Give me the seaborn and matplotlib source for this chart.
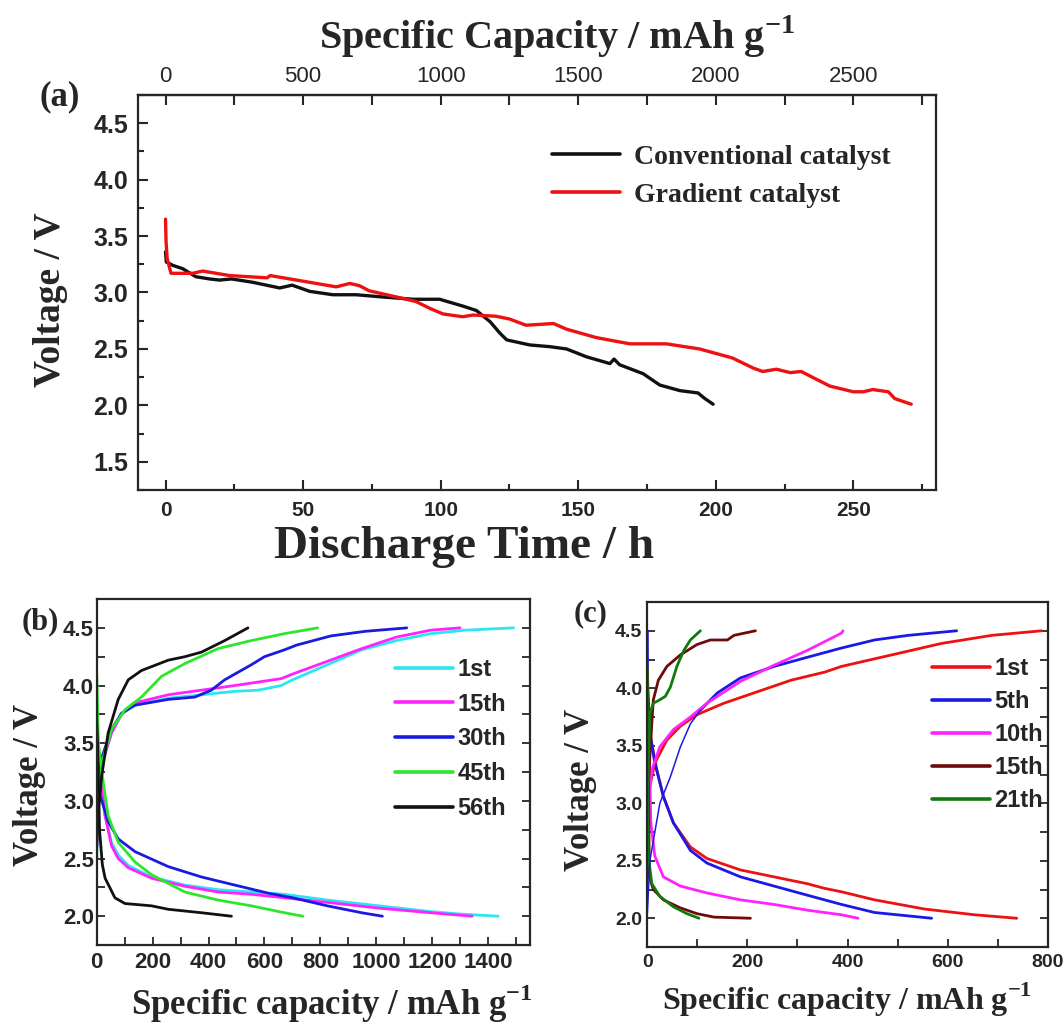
import numpy as np
import pandas as pd
import matplotlib
matplotlib.use("Agg")
import matplotlib.pyplot as plt
from matplotlib.ticker import MultipleLocator
import seaborn as sns

# ---- panel (a): discharge curves, time (h) vs voltage (V) ----
time_conv = [0, 0.3, 2.7, 6.3, 11, 16, 19.6, 24, 31.8, 41.5, 46, 52.4, 60.8, 69.3,
             79, 90, 99.6, 108, 113, 118, 121.5, 124, 132.4, 139.6, 145.7, 153,
             161.5, 163, 165, 173.6, 179.6, 187, 193.5, 196, 199]
volt_conv = [3.36, 3.27, 3.24, 3.21, 3.14, 3.12, 3.11, 3.12, 3.09, 3.04, 3.065, 3.01,
             2.98, 2.98, 2.96, 2.94, 2.94, 2.88, 2.84, 2.74, 2.64, 2.58, 2.535, 2.52,
             2.50, 2.43, 2.37, 2.41, 2.36, 2.28, 2.18, 2.13, 2.11, 2.06, 2.01]

time_grad = [0, 0.2, 0.6, 2, 9.9, 13.5, 23.3, 37, 38, 50, 62, 67, 70.5, 74, 84, 91,
             96, 100.8, 108, 111.7, 120, 125, 131, 141, 145.7, 156.6, 168.7, 182,
             194, 206, 213.6, 217, 222, 227, 231, 236.6, 241.5, 250, 253.6, 257,
             262.7, 265, 271]
volt_grad = [3.65, 3.45, 3.30, 3.17, 3.17, 3.19, 3.15, 3.13, 3.15, 3.10, 3.05, 3.08,
             3.06, 3.015, 2.96, 2.92, 2.86, 2.81, 2.785, 2.80, 2.79, 2.765, 2.71,
             2.725, 2.675, 2.60, 2.545, 2.545, 2.50, 2.42, 2.33, 2.30, 2.32, 2.29,
             2.30, 2.23, 2.17, 2.12, 2.12, 2.14, 2.12, 2.06, 2.01]

catalysts = ["Conventional catalyst", "Gradient catalyst"]
colors_a = ["#111111", "#ee1111"]

# ---- panel (b): charge / discharge profiles, capacity (mAh/g) vs voltage ----
cycles_b = ["1st", "15th", "30th", "45th", "56th"]
colors_b = ["#2ae6f0", "#ff22ff", "#1a1ae0", "#2ee62e", "#111111"]

charge_b = {
    "1st": ([0, 5, 20, 53, 89, 137, 256, 375, 494, 578, 660, 701, 825, 948, 1072, 1195, 1318, 1491],
            [2.5, 2.95, 3.33, 3.59, 3.76, 3.83, 3.89, 3.92, 3.95, 3.96, 4.0, 4.05, 4.18, 4.31, 4.39, 4.45, 4.48, 4.5]),
    "15th": ([0, 5, 20, 53, 89, 137, 256, 375, 494, 660, 701, 825, 948, 1072, 1195, 1300],
             [2.6, 3.0, 3.33, 3.59, 3.75, 3.85, 3.92, 3.96, 4.0, 4.06, 4.10, 4.21, 4.32, 4.42, 4.48, 4.5]),
    "30th": ([0, 5, 20, 53, 89, 137, 256, 351, 410, 458, 553, 600, 672, 714, 837, 960, 1109],
             [2.7, 3.05, 3.39, 3.62, 3.76, 3.83, 3.88, 3.90, 3.96, 4.05, 4.18, 4.25, 4.31, 4.35, 4.43, 4.47, 4.5]),
    "45th": ([0, 5, 18, 53, 101, 160, 232, 315, 434, 553, 672, 790],
             [2.7, 3.0, 3.33, 3.62, 3.79, 3.90, 4.08, 4.19, 4.32, 4.39, 4.45, 4.5]),
    "56th": ([0, 5, 18, 41, 77, 113, 160, 256, 315, 375, 458, 541],
             [2.6, 2.9, 3.22, 3.59, 3.88, 4.05, 4.13, 4.22, 4.25, 4.29, 4.39, 4.5]),
}
discharge_b = {
    "1st": ([0, 8, 18, 30, 53, 77, 113, 196, 315, 434, 553, 672, 825, 1010, 1195, 1294, 1436],
            [3.4, 3.3, 3.1, 2.87, 2.64, 2.53, 2.44, 2.34, 2.27, 2.23, 2.21, 2.19, 2.14, 2.09, 2.04, 2.02, 2.0]),
    "15th": ([0, 5, 12, 30, 53, 77, 113, 196, 315, 434, 553, 672, 825, 1010, 1195, 1343],
             [3.55, 3.4, 3.22, 2.87, 2.61, 2.5, 2.42, 2.33, 2.26, 2.21, 2.19, 2.16, 2.12, 2.07, 2.03, 2.0]),
    "30th": ([0, 5, 12, 41, 77, 137, 256, 375, 494, 613, 701, 825, 948, 1022],
             [3.65, 3.35, 3.05, 2.82, 2.67, 2.56, 2.43, 2.34, 2.27, 2.2, 2.16, 2.09, 2.03, 2.0]),
    "45th": ([0, 3, 6, 18, 41, 77, 137, 196, 315, 434, 553, 672, 738],
             [4.1, 3.8, 3.5, 3.25, 2.87, 2.64, 2.47, 2.36, 2.21, 2.14, 2.09, 2.03, 2.0]),
    "56th": ([0, 3, 6, 10, 20, 30, 65, 101, 196, 256, 375, 482],
             [3.7, 3.5, 3.2, 2.75, 2.45, 2.33, 2.16, 2.11, 2.09, 2.06, 2.03, 2.0]),
}

# ---- panel (c) ----
cycles_c = ["1st", "5th", "10th", "15th", "21th"]
colors_c = ["#ee1111", "#1a1ae6", "#ff22ff", "#6e0a0a", "#0f7a0f"]

charge_c = {
    "1st": ([0, 5, 15, 39, 66, 99, 153, 220, 287, 354, 388, 488, 588, 688, 788],
            [2.9, 3.15, 3.35, 3.55, 3.67, 3.77, 3.87, 3.97, 4.07, 4.14, 4.19, 4.29, 4.39, 4.46, 4.5]),
    "5th": ([106, 140, 186, 253, 320, 388, 454, 521, 618],
            [3.81, 3.96, 4.09, 4.19, 4.27, 4.35, 4.42, 4.46, 4.5]),
    "10th": ([0, 4, 9, 25, 52, 86, 119, 186, 253, 320, 388, 391],
             [2.9, 3.09, 3.29, 3.49, 3.64, 3.75, 3.87, 4.06, 4.2, 4.33, 4.48, 4.5]),
    "15th": ([0, 5, 9, 12, 22, 39, 66, 99, 126, 160, 173, 216],
             [3.0, 3.4, 3.7, 3.90, 4.07, 4.19, 4.29, 4.38, 4.42, 4.42, 4.46, 4.5]),
    "21th": ([0, 2, 5, 12, 25, 36, 46, 59, 73, 86, 106],
             [2.6, 3.3, 3.78, 3.87, 3.90, 3.93, 4.01, 4.19, 4.33, 4.42, 4.5]),
}
# thin first part of the 5th charge
charge_c_5th_start = ([0, 5, 25, 46, 66, 86, 106],
                      [2.04, 2.5, 3.0, 3.23, 3.49, 3.69, 3.81])
discharge_c = {
    "1st": ([0, 2, 5, 19, 32, 52, 86, 119, 186, 253, 320, 354, 388, 454, 554, 654, 738],
            [4.16, 3.9, 3.61, 3.29, 3.06, 2.83, 2.62, 2.52, 2.42, 2.36, 2.30, 2.26, 2.23, 2.16, 2.08, 2.03, 2.0]),
    "5th": ([0, 0.5, 5, 15, 32, 52, 86, 119, 186, 253, 320, 388, 454, 568],
            [4.5, 3.98, 3.61, 3.35, 3.06, 2.83, 2.59, 2.48, 2.36, 2.28, 2.20, 2.12, 2.05, 2.0]),
    "10th": ([0, 4, 7, 15, 32, 66, 119, 186, 253, 320, 388, 421],
             [3.93, 3.40, 2.83, 2.54, 2.36, 2.28, 2.22, 2.16, 2.12, 2.07, 2.03, 2.0]),
    "15th": ([0, 2, 3, 4, 12, 32, 66, 99, 133, 206],
             [4.16, 3.6, 2.83, 2.36, 2.25, 2.16, 2.09, 2.04, 2.01, 2.0]),
    "21th": ([0, 0.7, 2, 9, 25, 52, 79, 103],
             [4.19, 3.12, 2.54, 2.30, 2.19, 2.10, 2.04, 2.0]),
}


def to_long(charge, discharge, cycles):
    rows = []
    for c in cycles:
        for branch, d in (("charge", charge), ("discharge", discharge)):
            cap, v = d[c]
            for x, y in zip(cap, v):
                rows.append((c, branch, x, y))
    return pd.DataFrame(rows, columns=["cycle", "branch", "capacity", "voltage"])


df_a = pd.concat([
    pd.DataFrame({"time": time_conv, "voltage": volt_conv, "catalyst": catalysts[0]}),
    pd.DataFrame({"time": time_grad, "voltage": volt_grad, "catalyst": catalysts[1]}),
])
df_b = to_long(charge_b, discharge_b, cycles_b)
df_c = to_long(charge_c, discharge_c, cycles_c)

sns.set_style("ticks")
plt.rcParams["font.family"] = ["Liberation Sans", "DejaVu Sans"]
plt.rcParams["font.weight"] = "bold"
plt.rcParams["axes.linewidth"] = 1.6

serif = {"family": "Liberation Serif", "weight": "bold"}

fig = plt.figure(figsize=(10.64, 10.27), dpi=100)
ax_a = fig.add_axes([0.1297, 0.5229, 0.75, 0.3846])
ax_b = fig.add_axes([0.0909, 0.0798, 0.4072, 0.3369])
ax_c = fig.add_axes([0.6084, 0.0779, 0.3763, 0.3359])

# --- (a) ---
sns.lineplot(data=df_a, x="time", y="voltage", hue="catalyst", hue_order=catalysts,
             palette=colors_a, estimator=None, sort=False, lw=2.4, ax=ax_a)
ax_a.set_xlim(-10, 280)
ax_a.set_ylim(1.25, 4.75)
ax_a.xaxis.set_major_locator(MultipleLocator(50))
ax_a.xaxis.set_minor_locator(MultipleLocator(25))
ax_a.yaxis.set_major_locator(MultipleLocator(0.5))
ax_a.yaxis.set_minor_locator(MultipleLocator(0.25))
ax_a.tick_params(which="both", direction="in", width=1.5)
ax_a.tick_params(which="major", length=7)
ax_a.tick_params(which="minor", length=4)
ax_a.tick_params(axis="y", labelsize=18, pad=7)
ax_a.tick_params(axis="x", labelsize=15, pad=8)

sec = ax_a.secondary_xaxis("top", functions=(lambda t: t * 10, lambda c: c / 10))
sec.xaxis.set_major_locator(MultipleLocator(500))
sec.xaxis.set_minor_locator(MultipleLocator(250))
sec.tick_params(which="both", direction="in", width=1.5, labelsize=16, pad=6)
sec.tick_params(which="major", length=7)
sec.tick_params(which="minor", length=7)
for lab in sec.get_xticklabels():
    lab.set_fontweight("normal")

ax_a.set_xlabel("Discharge Time / h", fontdict=serif, fontsize=34)
ax_a.set_ylabel("Voltage / V", fontdict=serif, fontsize=27)
ax_a.xaxis.label.set_va("center")
ax_a.yaxis.label.set_va("center")
ax_a.xaxis.set_label_coords(0.4085, -0.144)
ax_a.yaxis.set_label_coords(-0.110, 0.481)
fig.text(557 / 1064, 1 - 37 / 1027, "Specific Capacity / mAh g$^{\\mathregular{-1}}$",
         ha="center", va="center", fontsize=29, **serif)
ax_a.text(-0.098, 0.995, "(a)", transform=ax_a.transAxes, ha="center", va="center",
          fontsize=25, **serif)

sns.move_legend(ax_a, "upper left", bbox_to_anchor=(0.519, 0.875), title=None,
                frameon=False, borderpad=0, borderaxespad=0, handlelength=2.45,
                handletextpad=0.5, labelspacing=0.45,
                prop={"family": "Liberation Serif", "weight": "bold", "size": 20})
for h in ax_a.get_legend().get_lines():
    h.set_linewidth(2.6)


# --- (b) and (c) ---
def style_cycle_axes(ax, xmax, ypad, tick_size, xlabel_size, legend_x, legend_y, spacing):
    ax.set_xlim(0, xmax)
    ax.set_ylim(1.75, 4.75)
    ax.xaxis.set_major_locator(MultipleLocator(200))
    ax.xaxis.set_minor_locator(MultipleLocator(100))
    ax.yaxis.set_major_locator(MultipleLocator(0.5))
    ax.yaxis.set_minor_locator(MultipleLocator(0.25))
    ax.tick_params(which="both", direction="in", width=1.3, right=True, labelsize=tick_size)
    ax.tick_params(which="both", length=6)
    ax.tick_params(axis="y", pad=ypad)
    ax.tick_params(axis="x", pad=5)
    ax.set_xlabel("Specific capacity / mAh g$^{\\mathregular{-1}}$", fontdict=serif,
                  fontsize=xlabel_size)
    ax.set_ylabel("Voltage / V", fontdict=serif, fontsize=25)
    ax.xaxis.label.set_va("center")
    ax.yaxis.label.set_va("center")
    sns.move_legend(ax, "upper left", bbox_to_anchor=(legend_x, legend_y), title=None,
                    frameon=False, borderpad=0, borderaxespad=0, handlelength=2.45,
                    handletextpad=0.2, labelspacing=spacing,
                    prop={"family": "Liberation Sans", "weight": "bold", "size": 17})
    for h in ax.get_legend().get_lines():
        h.set_linewidth(2.6)


sns.lineplot(data=df_b, x="capacity", y="voltage", hue="cycle", hue_order=cycles_b,
             palette=colors_b, units="branch", estimator=None, sort=False, lw=2.0, ax=ax_b)
style_cycle_axes(ax_b, 1550, 2, 16, 25, 0.688, 0.83, 0.5)
ax_b.xaxis.set_label_coords(0.543, -0.168)
ax_b.yaxis.set_label_coords(-0.155, 0.462)
ax_b.text(-0.131, 0.934, "(b)", transform=ax_b.transAxes, ha="center", va="center",
          fontsize=22, **serif)

sns.lineplot(data=df_c, x="capacity", y="voltage", hue="cycle", hue_order=cycles_c,
             palette=colors_c, units="branch", estimator=None, sort=False, lw=2.0, ax=ax_c)
sns.lineplot(x=charge_c_5th_start[0], y=charge_c_5th_start[1], color=colors_c[1],
             lw=1.1, sort=False, estimator=None, legend=False, ax=ax_c)
style_cycle_axes(ax_c, 800, 3.5, 14, 23, 0.711, 0.84, 0.42)
ax_c.xaxis.set_label_coords(0.499, -0.154)
ax_c.yaxis.set_label_coords(-0.168, 0.455)
ax_c.text(-0.143, 0.965, "(c)", transform=ax_c.transAxes, ha="center", va="center",
          fontsize=22, **serif)

fig.savefig("out.png", dpi=100)
